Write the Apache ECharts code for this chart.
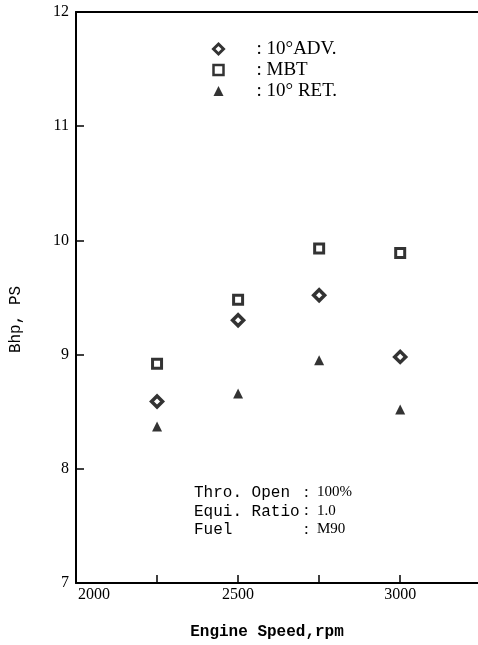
<!DOCTYPE html>
<html>
<head>
<meta charset="utf-8">
<script src="https://cdn.jsdelivr.net/npm/echarts@6/dist/echarts.min.js"></script>
<style>
html,body{margin:0;padding:0;background:#fff;}
#c{width:478px;height:645px;}
</style>
</head>
<body>
<div id="c"></div>
<script>
// Data
var speeds = [2250, 2500, 2750, 3000];
var adv = [8.59, 9.30, 9.52, 8.98];
var mbt = [8.92, 9.48, 9.93, 9.89];
var ret = [8.37, 8.66, 8.95, 8.52];
var seriesNames = ['10°ADV.', 'MBT', '10° RET.'];
var xTickLabels = [2000, 2500, 3000];
var notesLeft = ['Thro. Open', 'Equi. Ratio', 'Fuel'];
var notesRight = ['100%', '1.0', 'M90'];

var FONT = '"Liberation Serif", "DejaVu Serif", serif';
var WIDE = '"Liberation Mono", "DejaVu Sans Mono", monospace';

function pts(ys) { return speeds.map(function (s, i) { return [s, ys[i]]; }); }

var chart = echarts.init(document.getElementById('c'));

var graphics = [];
notesLeft.forEach(function (t, i) {
  var y = 493 + i * 18.5;
  graphics.push({ type: 'text', left: 194, top: y - 8, style: { text: t, font: '16px ' + WIDE, fill: '#000' } });
  graphics.push({ type: 'text', left: 304, top: y - 9, style: { text: ':', font: '17px ' + FONT, fill: '#000' } });
  graphics.push({ type: 'text', left: 317, top: y - 8, style: { text: notesRight[i], font: '15px ' + FONT, fill: '#000' } });
});

var legendStyles = [
  { borderWidth: 3, borderColor: '#000', color: '#fff' },
  { borderWidth: 2.5, borderColor: '#000', color: '#fff' },
  { borderWidth: 0, color: '#000' }
];

chart.setOption({
  animation: false,
  backgroundColor: '#fff',
  textStyle: { fontFamily: FONT, color: '#000' },
  grid: { left: 72, right: 0, top: 12, bottom: 62, containLabel: false },
  legend: {
    orient: 'vertical',
    left: 212,
    top: 39,
    padding: 0,
    itemWidth: 10,
    itemHeight: 10,
    itemGap: 1,
    data: seriesNames.map(function (n, i) { return { name: n, itemStyle: legendStyles[i] }; }),
    formatter: function (n) { return ': ' + n; },
    textStyle: { fontFamily: FONT, fontSize: 19, color: '#000', lineHeight: 20, padding: [0, 0, 0, 28] }
  },
  xAxis: [{
    type: 'value',
    min: 2000,
    max: 3240,
    interval: 250,
    position: 'bottom',
    name: 'Engine Speed,rpm',
    nameLocation: 'middle',
    nameGap: 41,
    nameTextStyle: { fontFamily: WIDE, fontSize: 16, fontWeight: 'bold', color: '#000', padding: [0, 20, 0, 0] },
    axisLine: { lineStyle: { color: '#000', width: 2 } },
    axisTick: { inside: true, length: 8, lineStyle: { color: '#000', width: 1.5 } },
    splitLine: { show: false },
    axisLabel: {
      color: '#000', fontFamily: FONT, fontSize: 16, margin: 4,
      showMaxLabel: false,
      formatter: function (v) {
        if (xTickLabels.indexOf(v) < 0) return '';
        return v === xTickLabels[0] ? '{f|' + v + '}' : String(v);
      },
      rich: { f: { fontFamily: FONT, fontSize: 16, color: '#000', padding: [0, 0, 0, 36] } }
    }
  }, {
    type: 'value',
    min: 2000,
    max: 3240,
    position: 'top',
    axisLine: { show: true, lineStyle: { color: '#000', width: 2 } },
    axisTick: { show: false },
    axisLabel: { show: false },
    splitLine: { show: false }
  }],
  yAxis: {
    type: 'value',
    min: 7,
    max: 12,
    interval: 1,
    name: 'Bhp, PS',
    nameLocation: 'middle',
    nameGap: 52,
    nameRotate: 90,
    nameTextStyle: { fontFamily: WIDE, fontSize: 16, color: '#000', padding: [0, 44, 0, 0] },
    axisLine: { show: true, lineStyle: { color: '#000', width: 2 } },
    axisTick: { inside: true, length: 8, lineStyle: { color: '#000', width: 1.5 } },
    splitLine: { show: false },
    axisLabel: { color: '#000', fontFamily: FONT, fontSize: 16, margin: 7 }
  },
  series: [
    { name: seriesNames[0], type: 'scatter', data: pts(adv), symbol: 'diamond', symbolSize: 11,
      itemStyle: { color: '#fff', borderColor: '#000', borderWidth: 3.5 } },
    { name: seriesNames[1], type: 'scatter', data: pts(mbt), symbol: 'rect', symbolSize: 9,
      itemStyle: { color: '#fff', borderColor: '#000', borderWidth: 3 } },
    { name: seriesNames[2], type: 'scatter', data: pts(ret), symbol: 'triangle', symbolSize: 10,
      itemStyle: { color: '#000' } }
  ],
  graphic: graphics
});
</script>
</body>
</html>
